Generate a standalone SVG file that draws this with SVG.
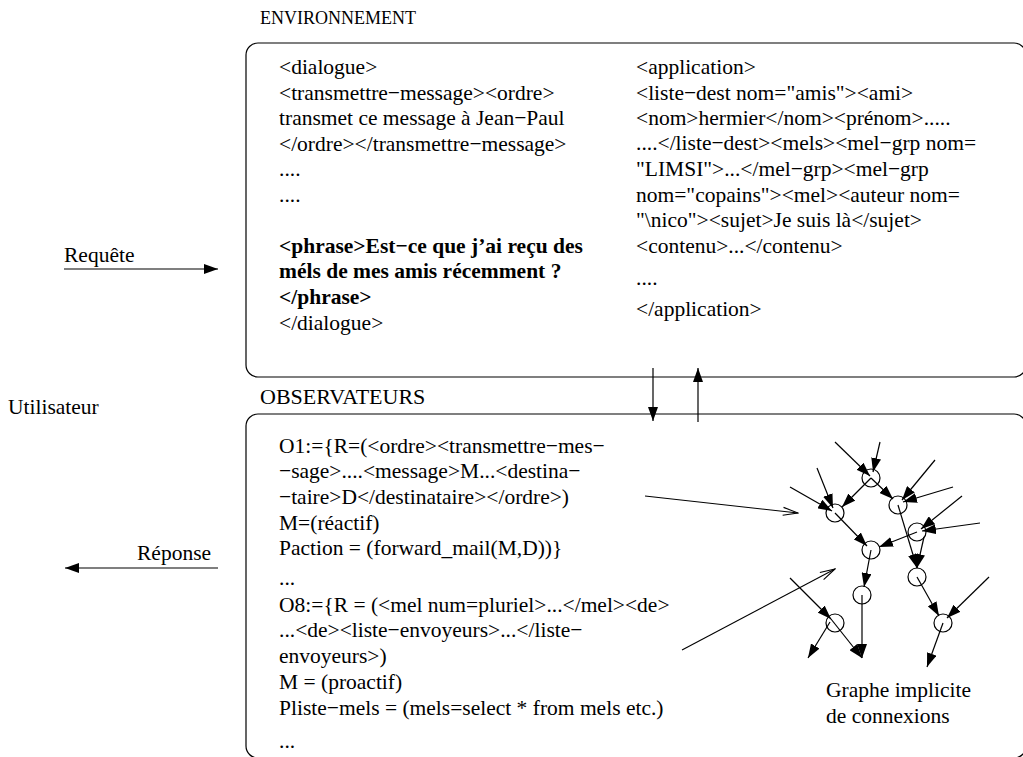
<svg xmlns="http://www.w3.org/2000/svg" width="1023" height="757" viewBox="0 0 1023 757">
<style>
text{font-family:"Liberation Serif","Times New Roman",serif;font-size:21.5px;fill:#000}
.b{font-weight:bold}
.frame{fill:none;stroke:#000;stroke-width:1.2}
.node{fill:none;stroke:#000;stroke-width:1.2}
.e{stroke:#000;stroke-width:1.2;fill:none;marker-end:url(#ah)}
.o{stroke:#000;stroke-width:1.1;fill:none;marker-end:url(#oh)}
</style>
<defs>
<marker id="ah" markerUnits="userSpaceOnUse" markerWidth="15" markerHeight="10" refX="14" refY="5" orient="auto"><path d="M0,0 L14,5 L0,10 z" fill="#000"/></marker>
<marker id="oh" markerUnits="userSpaceOnUse" markerWidth="17" markerHeight="11" refX="15.5" refY="5.5" orient="auto"><path d="M0.5,1.5 L15.5,5.5 L0.5,9.5" fill="none" stroke="#000" stroke-width="1.1"/></marker>
</defs>
<rect width="1023" height="757" fill="#fff"/>

<g id="environnement">
<text x="260" y="24" style="font-size:18px">ENVIRONNEMENT</text>
<rect class="frame" x="246" y="43" width="780" height="334" rx="12"/>
</g>

<g id="dialogue">
<text x="279" y="74">&lt;dialogue&gt;</text>
<text x="279" y="100">&lt;transmettre−message&gt;&lt;ordre&gt;</text>
<text x="279" y="125">transmet ce message à Jean−Paul</text>
<text x="279" y="151">&lt;/ordre&gt;&lt;/transmettre−message&gt;</text>
<text x="279" y="176">....</text>
<text x="279" y="202">....</text>
<text class="b" x="279" y="253">&lt;phrase&gt;Est−ce que j’ai reçu des</text>
<text class="b" x="279" y="278">méls de mes amis récemment ?</text>
<text class="b" x="279" y="304">&lt;/phrase&gt;</text>
<text x="279" y="330">&lt;/dialogue&gt;</text>
</g>

<g id="application">
<text x="636" y="74">&lt;application&gt;</text>
<text x="636" y="100">&lt;liste−dest nom="amis"&gt;&lt;ami&gt;</text>
<text x="636" y="125">&lt;nom&gt;hermier&lt;/nom&gt;&lt;prénom&gt;.....</text>
<text x="636" y="150">....&lt;/liste−dest&gt;&lt;mels&gt;&lt;mel−grp nom=</text>
<text x="636" y="176">"LIMSI"&gt;...&lt;/mel−grp&gt;&lt;mel−grp</text>
<text x="636" y="202">nom="copains"&gt;&lt;mel&gt;&lt;auteur nom=</text>
<text x="636" y="227">"\nico"&gt;&lt;sujet&gt;Je suis là&lt;/sujet&gt;</text>
<text x="636" y="253">&lt;contenu&gt;...&lt;/contenu&gt;</text>
<text x="636" y="285">....</text>
<text x="636" y="316">&lt;/application&gt;</text>
</g>

<g id="observateurs">
<text x="260" y="404" style="font-size:22px">OBSERVATEURS</text>
<rect class="frame" x="246" y="414" width="780" height="344" rx="12"/>
</g>

<g id="regles">
<text x="279" y="453">O1:={R=(&lt;ordre&gt;&lt;transmettre−mes−</text>
<text x="279" y="478">−sage&gt;....&lt;message&gt;M...&lt;destina−</text>
<text x="279" y="504">−taire&gt;D&lt;/destinataire&gt;&lt;/ordre&gt;)</text>
<text x="279" y="530">M=(réactif)</text>
<text x="279" y="555">Paction = (forward_mail(M,D))}</text>
<text x="279" y="585">...</text>
<text x="279" y="612">O8:={R = (&lt;mel num=pluriel&gt;...&lt;/mel&gt;&lt;de&gt;</text>
<text x="279" y="637">...&lt;de&gt;&lt;liste−envoyeurs&gt;...&lt;/liste−</text>
<text x="279" y="663">envoyeurs&gt;)</text>
<text x="279" y="689">M = (proactif)</text>
<text x="279" y="715">Pliste−mels = (mels=select * from mels etc.)</text>
<text x="279" y="748">...</text>
</g>

<g id="utilisateur">
<text x="8" y="414">Utilisateur</text>
</g>
<g id="label-requete"><text x="64" y="262">Requête</text></g>
<g id="label-reponse"><text x="137" y="560">Réponse</text></g>
<g id="label-graphe">
<text x="826" y="697">Graphe implicite</text>
<text x="826" y="723">de connexions</text>
</g>

<g id="graph-nodes">
<circle id="c1" class="node" cx="871" cy="478" r="9"/>
<circle id="c2" class="node" cx="835" cy="513" r="9"/>
<circle id="c3" class="node" cx="898" cy="505" r="9"/>
<circle id="c4" class="node" cx="917" cy="532" r="9"/>
<circle id="c5" class="node" cx="871" cy="550" r="9"/>
<circle id="c6" class="node" cx="917" cy="577" r="9"/>
<circle id="c7" class="node" cx="862" cy="595" r="9"/>
<circle id="c8" class="node" cx="835" cy="623" r="9"/>
<circle id="c9" class="node" cx="943" cy="623" r="9"/>
</g>

<g id="connectors">
<line class="e" x1="64" y1="269" x2="218" y2="269"/>
<line class="e" x1="218" y1="568" x2="65" y2="568"/>
<line class="e" x1="653" y1="368" x2="653" y2="421"/>
<line class="e" x1="698" y1="422" x2="698" y2="368"/>
<line class="o" x1="645" y1="496" x2="798" y2="513"/>
<line class="o" x1="682" y1="650" x2="835" y2="569"/>
<line class="e" x1="835" y1="442" x2="870" y2="476"/>
<line class="e" x1="880" y1="442" x2="873" y2="472"/>
<line class="e" x1="871" y1="478" x2="842" y2="507"/>
<line class="e" x1="871" y1="478" x2="893" y2="499"/>
<line class="e" x1="817" y1="468" x2="833" y2="508"/>
<line class="e" x1="790" y1="487" x2="832" y2="511"/>
<line class="e" x1="935" y1="460" x2="902" y2="500"/>
<line class="e" x1="953" y1="487" x2="903" y2="502"/>
<line class="e" x1="835" y1="513" x2="867" y2="546"/>
<line class="e" x1="962" y1="496" x2="921" y2="529"/>
<line class="e" x1="980" y1="523" x2="922" y2="531"/>
<line class="e" x1="917" y1="532" x2="879" y2="547"/>
<line class="e" x1="898" y1="505" x2="917" y2="568"/>
<line class="e" x1="924" y1="537" x2="917" y2="568"/>
<line class="e" x1="871" y1="550" x2="864" y2="587"/>
<line class="e" x1="862" y1="595" x2="862" y2="658"/>
<line class="e" x1="790" y1="578" x2="831" y2="619"/>
<line class="e" x1="830" y1="622" x2="808" y2="658"/>
<line class="e" x1="831" y1="619" x2="862" y2="658"/>
<line class="e" x1="917" y1="577" x2="939" y2="616"/>
<line class="e" x1="989" y1="577" x2="947" y2="618"/>
<line class="e" x1="943" y1="623" x2="927" y2="667"/>
</g>
</svg>
